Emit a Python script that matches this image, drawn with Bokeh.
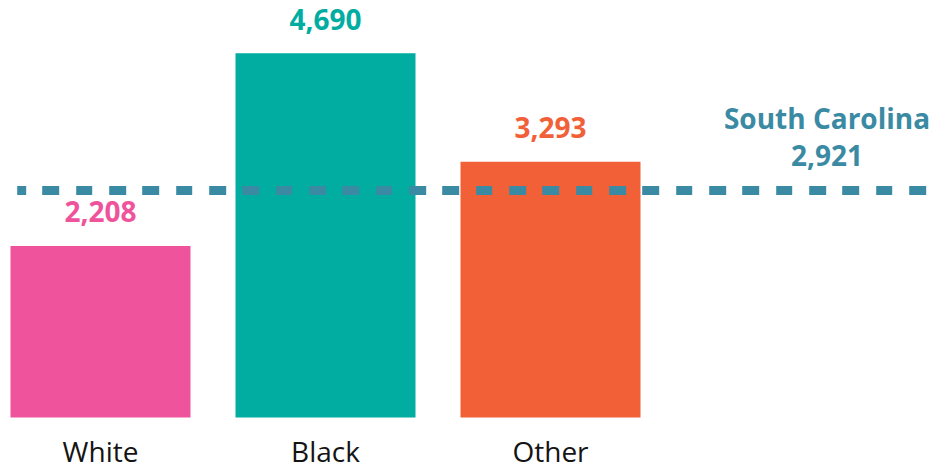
from bokeh.plotting import figure
from bokeh.models import Range1d
from bokeh.core.properties import value
from bokeh.embed import file_html
from bokeh.resources import INLINE

categories = ["White", "Black", "Other"]
counts = [2208, 4690, 3293]
count_labels = ["2,208", "4,690", "3,293"]
bar_colors = ["#EE539B", "#00ADA0", "#F26038"]
state_name = "South Carolina"
state_value = 2921
state_label = "2,921"
line_color = "#3A8AA3"

W, H = 951, 469
px_per_cat = 225.0
x_start = -100.0 / px_per_cat
y_scale = 364.3 / 4690.0          # pixels per unit
zero_from_bottom = 52.0
FONT = value("Open Sans")
BASE_FIX = -10  # alphabetic baseline correction (px)

p = figure(width=W, height=H,
           x_range=Range1d(x_start, x_start + W / px_per_cat),
           y_range=Range1d(-zero_from_bottom / y_scale, (H - zero_from_bottom) / y_scale),
           output_backend="svg", toolbar_location=None,
           x_axis_location=None, y_axis_location=None,
           min_border=0)
p.grid.visible = False
p.outline_line_color = None
p.background_fill_color = "white"
p.border_fill_color = "white"

xs = list(range(len(categories)))

p.vbar(x=xs, top=counts, bottom=0, width=0.8, color=bar_colors, line_color=None)

p.segment(x0=x_start + 16.7 / px_per_cat, y0=state_value,
          x1=x_start + 935 / px_per_cat, y1=state_value,
          line_color=line_color, line_width=9,
          line_dash="17 16 17 17 16 17", line_dash_offset=8)

p.text(x=xs, y=counts, text=count_labels, text_color=bar_colors,
       text_align="center", text_baseline="alphabetic", y_offset=-24 + BASE_FIX,
       text_font=FONT, text_font_style="bold", text_font_size="28px")

sx = x_start + 826.5 / px_per_cat
p.text(x=[sx], y=[state_value], text=[state_label], text_color=line_color,
       text_align="center", text_baseline="alphabetic", y_offset=-25 + BASE_FIX,
       text_font=FONT, text_font_style="bold", text_font_size="28px")
p.text(x=[sx], y=[state_value], text=[state_name], text_color=line_color,
       text_align="center", text_baseline="alphabetic", y_offset=-63 + BASE_FIX,
       text_font=FONT, text_font_style="bold", text_font_size="28px")

p.text(x=xs, y=[0] * len(xs), text=categories, text_color="#141414",
       text_align="center", text_baseline="alphabetic", y_offset=43 + BASE_FIX,
       text_font=FONT, text_font_size="28px")

open("out.html", "w").write(file_html(p, INLINE))
